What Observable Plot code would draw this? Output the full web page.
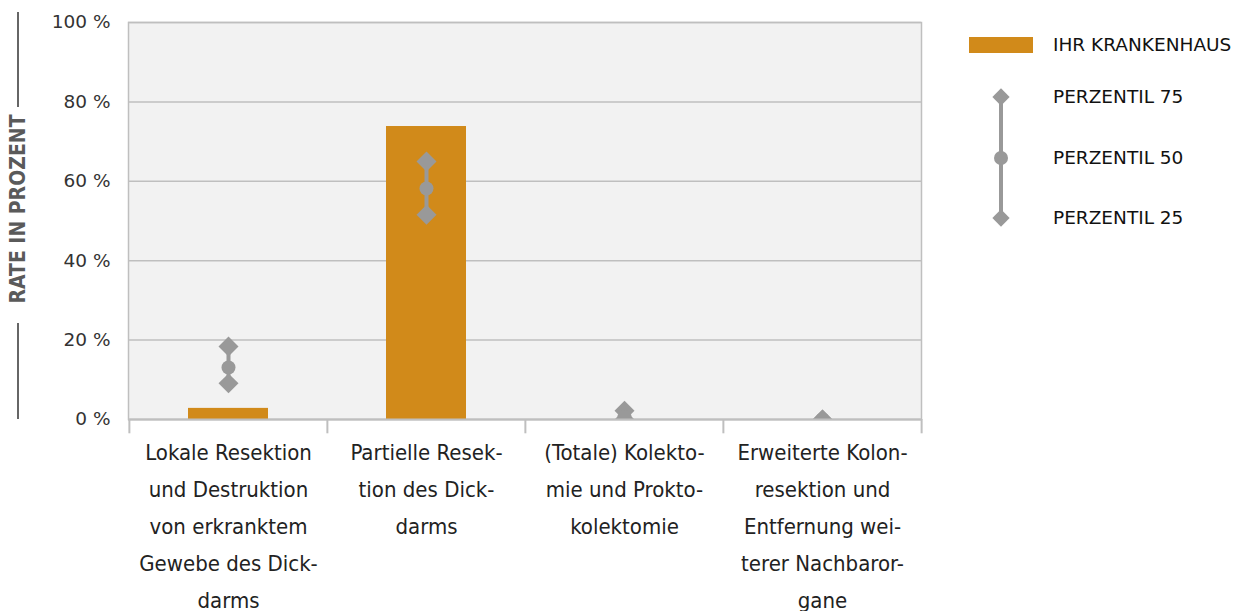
<!DOCTYPE html>
<html><head><meta charset="utf-8">
<script src="https://cdn.jsdelivr.net/npm/d3@7"></script>
<script src="https://cdn.jsdelivr.net/npm/@observablehq/plot@0.6"></script>
<style>
body{margin:0;background:#fff;}
#wrap{position:relative;width:1239px;height:611px;overflow:hidden;background:#fff;}
#chart{position:absolute;left:0;top:0;}
#ytitle{position:absolute;left:18px;top:209px;transform:translate(-50%,-50%) rotate(-90deg);white-space:nowrap;
 font-weight:bold;font-size:21px;color:#5a5a5a;}
.yline{position:absolute;left:17px;width:2px;background:#666;}
#legend{position:absolute;left:950px;top:20px;}
</style></head><body><div id="wrap"><div id="chart"></div>
<div class="yline" style="top:12px;height:95px"></div>
<div id="ytitle">RATE IN PROZENT</div>
<div class="yline" style="top:323px;height:96px"></div>
<svg id="legend" width="289" height="220"></svg>
</div>
<script>
const categories = [
  "Lokale Resektion\nund Destruktion\nvon erkranktem\nGewebe des Dick-\ndarms",
  "Partielle Resek-\ntion des Dick-\ndarms",
  "(Totale) Kolekto-\nmie und Prokto-\nkolektomie",
  "Erweiterte Kolon-\nresektion und\nEntfernung wei-\nterer Nachbaror-\ngane"
];
const hospitalRate = [2.8, 73.8, 0, 0];
const p75 = [18.4, 65.0, 2.2, 0];
const p50 = [13.1, 58.2, 0.6, 0];
const p25 = [9.1, 51.6, 0, 0];
const yTicks = [0, 20, 40, 60, 80, 100];
const legendLabels = ["IHR KRANKENHAUS", "PERZENTIL 75", "PERZENTIL 50", "PERZENTIL 25"];

// pick a condensed font that is actually installed
function hasFont(name) {
  const c = document.createElement("canvas").getContext("2d");
  const s = "Lokale Resektion und Destruktion 0123";
  for (const fb of ["monospace", "serif"]) {
    c.font = `40px ${fb}`; const a = c.measureText(s).width;
    c.font = `40px "${name}", ${fb}`; const b = c.measureText(s).width;
    if (a !== b) return true;
  }
  return false;
}
const condCandidates = ["DejaVu Sans Condensed", "Liberation Sans Narrow", "Roboto Condensed", "Open Sans Condensed", "Noto Sans Condensed"];
const condFont = condCandidates.find(hasFont);
const xFont = condFont ? `"${condFont}"` : "Roboto";
const xSize = condFont ? 22 : 21;
document.getElementById("ytitle").style.fontFamily = condFont ? `"${condFont}"` : "Roboto";

const orange = "#D18A1A", grey = "#999999", gridC = "#bfbfbf";
const W = 1239, H = 611, mL = 128, mR = 318, mT = 22, mB = 192;
const bw = (W - mL - mR) / categories.length;
const data = categories.map((c, i) => ({c, rate: hospitalRate[i], p25: p25[i], p50: p50[i], p75: p75[i]}));

const chart = Plot.plot({
  width: W, height: H, marginLeft: mL, marginRight: mR, marginTop: mT, marginBottom: mB,
  style: {fontFamily: "DejaVu Sans", background: "transparent", overflow: "visible"},
  x: {domain: categories, padding: 0, axis: null},
  y: {domain: [0, 100], axis: null},
  marks: [
    Plot.frame({fill: "#f2f2f2", stroke: gridC, strokeWidth: 1.5}),
    Plot.gridY(yTicks, {stroke: gridC, strokeOpacity: 1, strokeWidth: 1.5}),
    Plot.axisY(yTicks, {tickSize: 0, tickPadding: 18, tickFormat: d => d + " %", fontSize: 18.5, fill: "#333", label: null}),
    Plot.barY(data, {x: "c", y: "rate", fill: orange, insetLeft: 59, insetRight: 59}),
    Plot.ruleX(data, {x: "c", y1: "p25", y2: "p75", stroke: grey, strokeWidth: 4, clip: true}),
    Plot.dot(data, {x: "c", y: "p25", symbol: "diamond2", r: 9, fill: grey, clip: true}),
    Plot.dot(data, {x: "c", y: "p75", symbol: "diamond2", r: 9, fill: grey, clip: true}),
    Plot.dot(data, {x: "c", y: "p50", r: 7, fill: grey, clip: true}),
    Plot.ruleY([0], {stroke: gridC, strokeWidth: 2}),
    Plot.ruleX(categories, {x: d => d, dx: -bw / 2, y1: 0, y2: -3.6, stroke: gridC, strokeWidth: 2}),
    Plot.ruleX([categories[categories.length - 1]], {x: d => d, dx: bw / 2, y1: 0, y2: -3.6, stroke: gridC, strokeWidth: 2}),
    Plot.axisX({tickSize: 0, tickPadding: 14, fontSize: xSize, fontFamily: xFont, lineHeight: 1.68, fill: "#222", textAnchor: "middle", label: null})
  ]
});
document.getElementById("chart").appendChild(chart);

// legend
const lg = d3.select("#legend");
const lx = 51, tx = 103;
lg.append("rect").attr("x", 19).attr("y", 17).attr("width", 64).attr("height", 16).attr("fill", orange);
const ys = [77, 138, 198];
lg.append("line").attr("x1", lx).attr("x2", lx).attr("y1", ys[0]).attr("y2", ys[2]).attr("stroke", grey).attr("stroke-width", 4);
const dia = d3.symbol(d3.symbolDiamond2, 190)();
lg.append("path").attr("d", dia).attr("transform", `translate(${lx},${ys[0]})`).attr("fill", grey);
lg.append("circle").attr("cx", lx).attr("cy", ys[1]).attr("r", 7).attr("fill", grey);
lg.append("path").attr("d", dia).attr("transform", `translate(${lx},${ys[2]})`).attr("fill", grey);
const lys = [25, ys[0], ys[1], ys[2]];
legendLabels.forEach((t, i) => {
  lg.append("text").attr("x", tx).attr("y", lys[i]).attr("dy", "0.35em")
    .attr("font-family", "DejaVu Sans").attr("font-size", 18.5).attr("fill", "#111").text(t);
});
</script>
</body></html>
